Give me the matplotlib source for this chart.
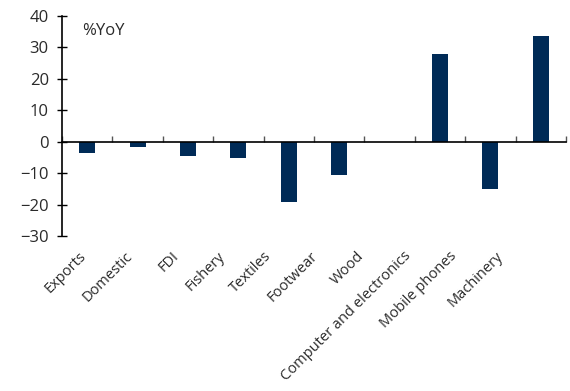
import matplotlib
matplotlib.use("Agg")
import matplotlib.pyplot as plt
from matplotlib.transforms import ScaledTranslation
import numpy as np

plt.rcParams['font.family'] = ['Open Sans', 'DejaVu Sans']

categories = ['Exports', 'Domestic', 'FDI', 'Fishery', 'Textiles', 'Footwear',
              'Wood', 'Computer and electronics', 'Mobile phones', 'Machinery']
yoy = [-3.5, -1.5, -4.6, -5.1, -19.1, -10.6, 0.0, 28.0, -15.0, 33.8]
yticks = [-30, -20, -10, 0, 10, 20, 30, 40]

navy = '#002B57'
txt = '#2a2a2a'

fig = plt.figure(figsize=(5.7, 3.91), dpi=100)
ax = fig.add_axes([0.1088, 0.396, 0.884, 0.563])

x = np.arange(len(categories))
ax.bar(x, yoy, width=0.32, color=navy, zorder=2)

ax.set_xlim(-0.5, len(categories) - 0.5)
ax.set_ylim(-30, 40)
ax.set_yticks(yticks)
ax.set_yticklabels([str(v).replace('-', '\u2212') for v in yticks], fontsize=12, color=txt)
ax.tick_params(axis='y', direction='inout', length=7, width=1, pad=6)

# zero line with category separators
ax.spines['bottom'].set_position(('data', 0))
ax.spines['bottom'].set_linewidth(1.2)
ax.spines['left'].set_linewidth(1.2)
ax.spines['top'].set_visible(False)
ax.spines['right'].set_visible(False)
ax.set_xticks(x)
ax.set_xticks(np.arange(len(categories) + 1) - 0.5, minor=True)
ax.tick_params(axis='x', which='major', length=0, labelbottom=False)
ax.tick_params(axis='x', which='minor', direction='in', length=4, width=1, color='#555555')

# labels in the original drift left of their bars a little more each step
sec = ax.secondary_xaxis('bottom')
sec.set_xticks(x * 0.92 - 0.06)
sec.set_xticklabels(categories, rotation=45, ha='right', rotation_mode='anchor',
                    fontsize=10.5, color=txt)
sec.tick_params(length=0, pad=9)
sec.spines['bottom'].set_visible(False)
shift = ScaledTranslation(-4 / 72, 0, fig.dpi_scale_trans)
for lbl in sec.get_xticklabels():
    lbl.set_transform(lbl.get_transform() + shift)

ax.text(0.04, 0.915, '%YoY', transform=ax.transAxes, fontsize=12, color=txt)

fig.savefig('out.png', dpi=100)
